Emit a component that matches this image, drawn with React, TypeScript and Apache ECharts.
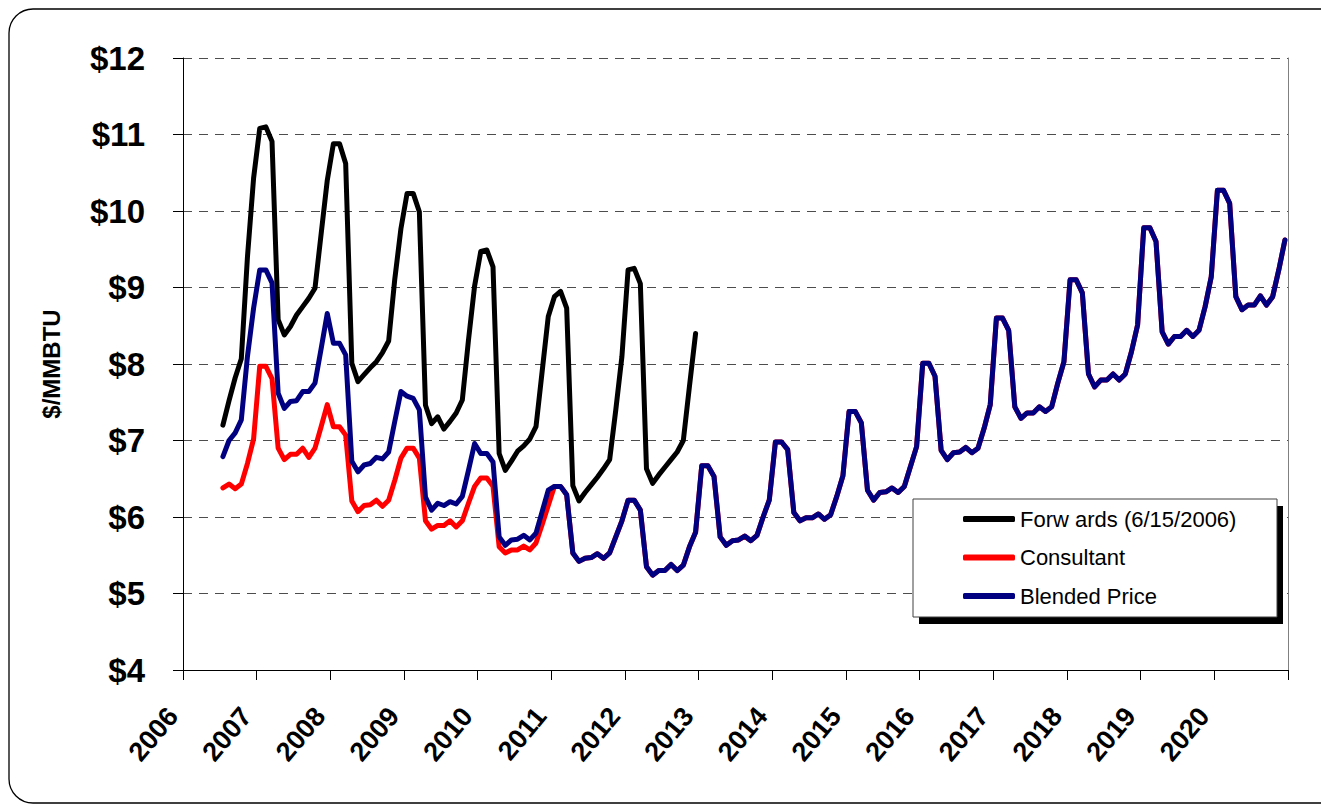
import React, { useEffect, useRef } from "react";
import * as echarts from "echarts";

// Months are counted from January 2006; each point sits mid-month.
const BASE_YEAR = 2006;
const AXIS_MONTHS = 180; // Jan 2006 .. Dec 2020
const SERIES_START = 6; // July 2006
const LONG_TERM_START = 60; // January 2011

const LEGEND_NAMES = ["Forw ards (6/15/2006)", "Consultant", "Blended Price"];

// Forward strip as of 6/15/2006, Jul 2006 - Dec 2012
const forwards = [
  7.2, 7.52, 7.82, 8.07, 9.4, 10.43,
  11.08, 11.1, 10.91, 8.58, 8.38, 8.49, 8.64, 8.75, 8.86, 8.99, 9.7, 10.4,
  10.88, 10.88, 10.62, 8.01, 7.77, 7.86, 7.95, 8.03, 8.15, 8.3, 9.11, 9.77,
  10.23, 10.23, 9.99, 7.46, 7.22, 7.31, 7.15, 7.25, 7.36, 7.53, 8.31, 9.02,
  9.47, 9.49, 9.27, 6.83, 6.61, 6.73, 6.86, 6.93, 7.02, 7.18, 7.9, 8.62,
  8.88, 8.95, 8.73, 6.41, 6.21, 6.32, 6.42, 6.52, 6.63, 6.75, 7.4, 8.1,
  9.23, 9.25, 9.05, 6.63, 6.44, 6.55, 6.65, 6.75, 6.85, 7.0, 7.71, 8.4,
];

// Consultant outlook, Jul 2006 - Dec 2010
const consultantEarly = [
  6.38, 6.43, 6.37, 6.43, 6.7, 7.02,
  7.97, 7.97, 7.81, 6.9, 6.75, 6.82, 6.82, 6.9, 6.78, 6.9, 7.18, 7.47,
  7.18, 7.18, 7.07, 6.21, 6.07, 6.15, 6.16, 6.22, 6.14, 6.22, 6.48, 6.77,
  6.9, 6.9, 6.77, 5.95, 5.84, 5.89, 5.89, 5.95, 5.87, 5.95, 6.18, 6.4,
  6.51, 6.51, 6.4, 5.61, 5.53, 5.57, 5.57, 5.62, 5.57, 5.66, 5.9, 6.15,
];

// Blend of forwards and consultant, Jul 2006 - Dec 2010
const blendedEarly = [
  6.79, 7.0, 7.1, 7.27, 8.1, 8.73,
  9.23, 9.23, 9.06, 7.62, 7.42, 7.51, 7.52, 7.64, 7.64, 7.75, 8.2, 8.66,
  8.27, 8.27, 8.12, 6.73, 6.59, 6.68, 6.7, 6.78, 6.76, 6.85, 7.25, 7.64,
  7.58, 7.55, 7.4, 6.26, 6.09, 6.18, 6.15, 6.2, 6.17, 6.27, 6.61, 6.96,
  6.83, 6.83, 6.72, 5.74, 5.63, 5.7, 5.71, 5.76, 5.7, 5.79, 6.07, 6.35,
];

// From 2011 on the blend equals the consultant outlook, Jan 2011 - Dec 2020
const longTerm = [
  6.4, 6.4, 6.29, 5.53, 5.42, 5.46, 5.47, 5.52, 5.46, 5.53, 5.74, 5.95,
  6.22, 6.22, 6.09, 5.35, 5.24, 5.3, 5.3, 5.38, 5.3, 5.37, 5.61, 5.8,
  6.67, 6.67, 6.53, 5.74, 5.63, 5.69, 5.7, 5.75, 5.69, 5.76, 6.0, 6.22,
  6.98, 6.98, 6.88, 6.06, 5.95, 5.99, 5.99, 6.04, 5.97, 6.03, 6.27, 6.54,
  7.38, 7.38, 7.23, 6.35, 6.22, 6.32, 6.33, 6.38, 6.32, 6.4, 6.66, 6.92,
  8.01, 8.01, 7.84, 6.87, 6.75, 6.84, 6.85, 6.91, 6.84, 6.9, 7.16, 7.47,
  8.6, 8.6, 8.44, 7.44, 7.29, 7.36, 7.36, 7.44, 7.38, 7.44, 7.75, 8.03,
  9.1, 9.1, 8.93, 7.87, 7.7, 7.79, 7.79, 7.87, 7.79, 7.87, 8.16, 8.51,
  9.78, 9.78, 9.6, 8.42, 8.26, 8.36, 8.36, 8.44, 8.36, 8.44, 8.75, 9.14,
  10.27, 10.27, 10.1, 8.88, 8.71, 8.77, 8.77, 8.89, 8.77, 8.88, 9.23, 9.62,
];

const PRICE_MIN = 4;
const PRICE_MAX = 12;

const FONT = "'Liberation Sans', Arial, Helvetica, sans-serif";

const toPoints = (values: number[], startMonth: number) =>
  values.map((v, i) => [startMonth + i + 0.5, v]);

const lineSeries = (name: string, color: string, data: number[][], z: number) => ({
  name,
  type: "line",
  data,
  showSymbol: false,
  symbol: "none",
  z,
  itemStyle: { color },
  lineStyle: { color, width: 5, cap: "round", join: "round" },
  emphasis: { disabled: true },
});

export default function App() {
  const ref = useRef<HTMLDivElement | null>(null);

  useEffect(() => {
    if (!ref.current) return;
    const chart = echarts.init(ref.current, undefined, { renderer: "svg" });

    const consultant = [
      ...toPoints(consultantEarly, SERIES_START),
      ...toPoints(longTerm, LONG_TERM_START),
    ];
    const blended = [
      ...toPoints(blendedEarly, SERIES_START),
      ...toPoints(longTerm, LONG_TERM_START),
    ];

    chart.setOption({
      animation: false,
      backgroundColor: "#ffffff",
      grid: { left: 183, top: 58, width: 1105, height: 612, containLabel: false },
      xAxis: {
        type: "value",
        min: 0,
        max: AXIS_MONTHS,
        interval: 12,
        axisLine: { show: true, lineStyle: { color: "#000", width: 1 } },
        axisTick: { show: true, length: 10, lineStyle: { color: "#000", width: 1 } },
        splitLine: { show: false },
        axisLabel: {
          rotate: 50,
          margin: 29,
          padding: [0, 16, 0, 0],
          color: "#000",
          fontFamily: FONT,
          fontWeight: "bold",
          fontSize: 27,
          formatter: (v: number) => (v >= AXIS_MONTHS ? "" : String(BASE_YEAR + v / 12)),
        },
      },
      yAxis: [
        {
          type: "value",
          min: PRICE_MIN,
          max: PRICE_MAX,
          interval: 1,
          name: "$/MMBTU",
          nameLocation: "middle",
          nameGap: 120,
          nameTextStyle: { color: "#000", fontFamily: FONT, fontWeight: "bold", fontSize: 24 },
          axisLine: { show: true, lineStyle: { color: "#000", width: 1 } },
          axisTick: { show: true, length: 10, lineStyle: { color: "#000", width: 1 } },
          splitLine: { show: true, lineStyle: { color: "#4d4d4d", width: 1, type: [9, 7] } },
          axisLabel: {
            margin: 38,
            color: "#000",
            fontFamily: FONT,
            fontWeight: "bold",
            fontSize: 33,
            formatter: (v: number) => "$" + v,
          },
        },
        {
          type: "value",
          position: "right",
          min: PRICE_MIN,
          max: PRICE_MAX,
          interval: 1,
          axisLine: { show: true, lineStyle: { color: "#808080", width: 1 } },
          axisTick: { show: false },
          axisLabel: { show: false },
          splitLine: { show: false },
        },
      ],
      legend: {
        orient: "vertical",
        left: 958,
        top: 502,
        itemWidth: 52,
        itemHeight: 6,
        itemGap: 14.5,
        icon: "roundRect",
        selectedMode: false,
        z: 12,
        data: LEGEND_NAMES,
        textStyle: { color: "#000", fontFamily: FONT, fontSize: 22, lineHeight: 24 },
      },
      graphic: [
        {
          type: "rect",
          silent: true,
          z: 0,
          shape: { x: 9, y: 9, width: 1340, height: 794, r: 24 },
          style: { fill: "none", stroke: "#000", lineWidth: 1.3 },
        },
        {
          type: "rect",
          silent: true,
          z: 10,
          shape: { x: 919, y: 506, width: 364, height: 118 },
          style: { fill: "#000" },
        },
        {
          type: "rect",
          silent: true,
          z: 10,
          shape: { x: 913, y: 499, width: 364, height: 118 },
          style: { fill: "#fff", stroke: "#404040", lineWidth: 1 },
        },
      ],
      series: [
        lineSeries(LEGEND_NAMES[0], "#000000", toPoints(forwards, SERIES_START), 3),
        lineSeries(LEGEND_NAMES[1], "#ff0000", consultant, 4),
        lineSeries(LEGEND_NAMES[2], "#000080", blended, 5),
      ],
    });

    return () => chart.dispose();
  }, []);

  return (
    <div
      ref={ref}
      style={{ position: "fixed", left: 0, top: 0, width: 1321, height: 807, background: "#fff" }}
    />
  );
}
